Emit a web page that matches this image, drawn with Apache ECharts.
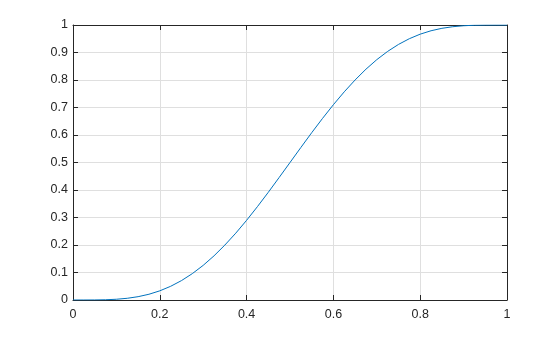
<!DOCTYPE html>
<html><head><meta charset="utf-8">
<script src="https://cdn.jsdelivr.net/npm/echarts@6/dist/echarts.min.js"></script>
<style>html,body{margin:0;padding:0;background:#fff}#c{width:560px;height:337px}</style>
</head><body><div id="c"></div>
<script>
const xValues = [0,0.025,0.05,0.075,0.1,0.125,0.15,0.175,0.2,0.225,0.25,0.275,0.3,0.325,0.35,0.375,0.4,0.425,0.45,0.475,0.5,0.525,0.55,0.575,0.6,0.625,0.65,0.675,0.7,0.725,0.75,0.775,0.8,0.825,0.85,0.875,0.9,0.925,0.95,0.975,1];
const yValues = [0,0.00001,0.0002,0.0009,0.0027,0.0062,0.0121,0.0209,0.0333,0.0498,0.0706,0.0960,0.1260,0.1607,0.1999,0.2430,0.2898,0.3396,0.3917,0.4455,0.5,0.5545,0.6083,0.6604,0.7102,0.7570,0.8001,0.8393,0.8740,0.9040,0.9294,0.9502,0.9667,0.9791,0.9879,0.9938,0.9973,0.9991,0.9998,0.99999,1];
const xTicks = {min:0, max:1, interval:0.2};
const yTicks = {min:0, max:1, interval:0.1};

const font = 'Liberation Sans, Arial, Helvetica, sans-serif';
const axisCommon = {
  type:'value',
  axisLine:{show:true, onZero:false, lineStyle:{color:'#262626', width:1}},
  axisTick:{show:true, inside:true, length:5, lineStyle:{color:'#262626'}},
  splitLine:{show:true, lineStyle:{color:'#dfdfdf', width:1}},
  axisLabel:{color:'#262626', fontSize:12.5, fontFamily:font}
};
const chart = echarts.init(document.getElementById('c'));
chart.setOption({
  animation:false,
  backgroundColor:'#fff',
  grid:{left:73, right:53, top:25, bottom:37},
  xAxis:[
    Object.assign({}, axisCommon, {min:xTicks.min, max:xTicks.max, interval:xTicks.interval, position:'bottom',
      axisLabel:Object.assign({}, axisCommon.axisLabel, {margin:8})}),
    Object.assign({}, axisCommon, {min:xTicks.min, max:xTicks.max, interval:xTicks.interval, position:'top',
      axisLabel:{show:false}, splitLine:{show:false}})
  ],
  yAxis:[
    Object.assign({}, axisCommon, {min:yTicks.min, max:yTicks.max, interval:yTicks.interval, position:'left',
      axisLabel:Object.assign({}, axisCommon.axisLabel, {margin:5})}),
    Object.assign({}, axisCommon, {min:yTicks.min, max:yTicks.max, interval:yTicks.interval, position:'right',
      axisLabel:{show:false}, splitLine:{show:false}})
  ],
  series:[{
    type:'line', xAxisIndex:0, yAxisIndex:0,
    data:xValues.map((x,i)=>[x,yValues[i]]),
    showSymbol:false, smooth:false,
    lineStyle:{color:'#0072BD', width:1}
  }]
});
</script></body></html>
